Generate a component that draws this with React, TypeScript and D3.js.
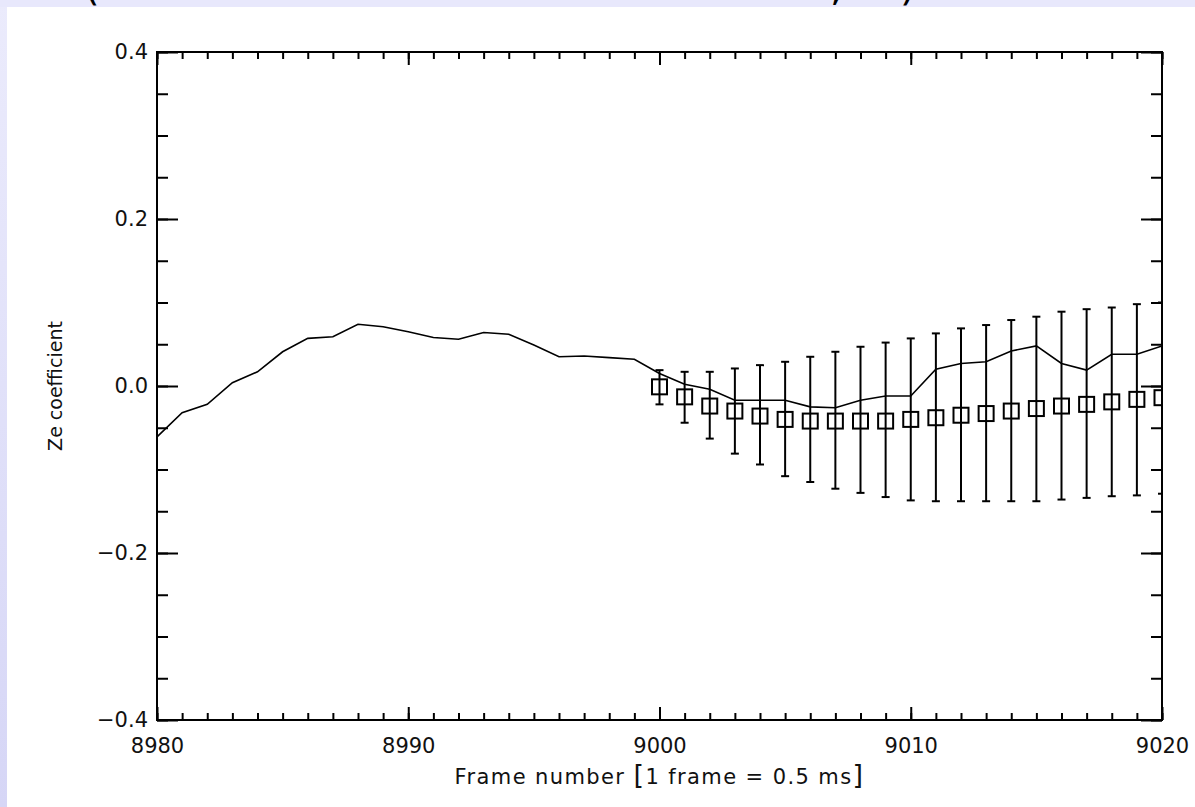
import React, { useEffect, useRef } from "react";
import { scaleLinear, axisBottom, axisTop, axisLeft, axisRight, select, line, format } from "d3";

// measured Ze coefficient, one value per frame
const lineFrames = [
  8980, 8981, 8982, 8983, 8984, 8985, 8986, 8987, 8988, 8989, 8990, 8991, 8992, 8993,
  8994, 8995, 8996, 8997, 8998, 8999, 9000, 9001, 9002, 9003, 9004, 9005, 9006, 9007,
  9008, 9009, 9010, 9011, 9012, 9013, 9014, 9015, 9016, 9017, 9018, 9019, 9020
];
const lineValues = [
  -0.061, -0.032, -0.022, 0.004, 0.017, 0.041, 0.057, 0.059, 0.074, 0.071, 0.065, 0.058,
  0.056, 0.064, 0.062, 0.049, 0.035, 0.036, 0.034, 0.032, 0.015, 0.002, -0.004, -0.017,
  -0.017, -0.017, -0.025, -0.026, -0.017, -0.012, -0.012, 0.02, 0.027, 0.029, 0.042,
  0.048, 0.027, 0.019, 0.038, 0.038, 0.048
];

// prediction with error bars
const predFrames = [
  9000, 9001, 9002, 9003, 9004, 9005, 9006, 9007, 9008, 9009, 9010, 9011, 9012, 9013,
  9014, 9015, 9016, 9017, 9018, 9019, 9020
];
const predValues = [
  -0.001, -0.013, -0.024, -0.03, -0.036, -0.04, -0.042, -0.042, -0.042, -0.042, -0.04,
  -0.038, -0.035, -0.033, -0.03, -0.027, -0.024, -0.022, -0.019, -0.016, -0.014
];
const predUpper = [
  0.019, 0.017, 0.017, 0.021, 0.025, 0.029, 0.035, 0.041, 0.047, 0.052, 0.057, 0.063,
  0.069, 0.073, 0.079, 0.083, 0.089, 0.092, 0.094, 0.098, 0.1
];
const predLower = [
  -0.022, -0.044, -0.063, -0.081, -0.094, -0.108, -0.115, -0.123, -0.128, -0.133, -0.137,
  -0.138, -0.138, -0.138, -0.138, -0.138, -0.136, -0.134, -0.132, -0.131, -0.129
];

const xMajorTicks = [8980, 8990, 9000, 9010, 9020];
const yMajorTicks = [-0.4, -0.2, 0.0, 0.2, 0.4];
const yMinorTicks = [
  -0.4, -0.35, -0.3, -0.25, -0.2, -0.15, -0.1, -0.05, 0, 0.05, 0.1, 0.15, 0.2, 0.25, 0.3,
  0.35, 0.4
];

const FONT = "DejaVu Sans";

function styleAxis(g, size = 21) {
  g.select(".domain").remove();
  g.attr("font-family", FONT).attr("font-size", size);
  g.selectAll("line").attr("stroke", "#000").attr("stroke-width", 2);
  g.selectAll("text").attr("fill", "#111");
}

function Chart({ width, height }) {
  const margin = { top: 52, left: 157, right: 33, bottom: 87 };
  const innerWidth = width - margin.left - margin.right,
    innerHeight = height - margin.top - margin.bottom;

  const xScale = scaleLinear().domain([8980, 9020]).range([0, innerWidth]);
  const yScale = scaleLinear().domain([-0.4, 0.4]).range([innerHeight, 0]);

  const bMinor = useRef(null), bMajor = useRef(null);
  const tMinor = useRef(null), tMajor = useRef(null);
  const lMinor = useRef(null), lMajor = useRef(null);
  const rMinor = useRef(null), rMajor = useRef(null);

  useEffect(() => {
    select(bMinor.current)
      .call(axisBottom(xScale).tickValues(lineFrames).tickSize(-7).tickFormat(() => ""))
      .call(styleAxis);
    select(bMajor.current)
      .call(axisBottom(xScale).tickValues(xMajorTicks).tickSize(-13).tickPadding(18).tickFormat(format("d")))
      .call(styleAxis);
    select(tMinor.current)
      .call(axisTop(xScale).tickValues(lineFrames).tickSize(-7).tickFormat(() => ""))
      .call(styleAxis);
    select(tMajor.current)
      .call(axisTop(xScale).tickValues(xMajorTicks).tickSize(-13).tickFormat(() => ""))
      .call(styleAxis);
    select(lMinor.current)
      .call(axisLeft(yScale).tickValues(yMinorTicks).tickSize(-11).tickFormat(() => ""))
      .call(styleAxis);
    select(lMajor.current)
      .call(axisLeft(yScale).tickValues(yMajorTicks).tickSize(-21).tickPadding(9).tickFormat(format(".1f")))
      .call(styleAxis);
    select(rMinor.current)
      .call(axisRight(yScale).tickValues(yMinorTicks).tickSize(-11).tickFormat(() => ""))
      .call(styleAxis);
    select(rMajor.current)
      .call(axisRight(yScale).tickValues(yMajorTicks).tickSize(-21).tickFormat(() => ""))
      .call(styleAxis);
  }, [xScale, yScale]);

  const path = line()
    .x((d, i) => xScale(lineFrames[i]))
    .y(d => yScale(d))(lineValues);

  const sq = 15, cap = 4;

  return (
    <g transform={`translate(${margin.left}, ${margin.top})`}>
      <defs>
        <clipPath id="plotClip">
          <rect x={0} y={0} width={innerWidth} height={innerHeight} />
        </clipPath>
      </defs>
      <g clipPath="url(#plotClip)">
        <path d={path} fill="none" stroke="#000" strokeWidth={1.6} />
        {predFrames.map((f, i) => {
          const cx = xScale(f);
          return (
            <g key={f} stroke="#000" strokeWidth={2} fill="none">
              <line x1={cx} x2={cx} y1={yScale(predUpper[i])} y2={yScale(predLower[i])} />
              <line x1={cx - cap} x2={cx + cap} y1={yScale(predUpper[i])} y2={yScale(predUpper[i])} />
              <line x1={cx - cap} x2={cx + cap} y1={yScale(predLower[i])} y2={yScale(predLower[i])} />
              <rect x={cx - sq / 2} y={yScale(predValues[i]) - sq / 2} width={sq} height={sq} />
            </g>
          );
        })}
      </g>
      <g ref={bMinor} transform={`translate(0, ${innerHeight})`} />
      <g ref={bMajor} transform={`translate(0, ${innerHeight})`} />
      <g ref={tMinor} />
      <g ref={tMajor} />
      <g ref={lMinor} />
      <g ref={lMajor} />
      <g ref={rMinor} transform={`translate(${innerWidth}, 0)`} />
      <g ref={rMajor} transform={`translate(${innerWidth}, 0)`} />
      <rect x={0} y={0} width={innerWidth} height={innerHeight} fill="none" stroke="#000" strokeWidth={2} />
      <text
        x={innerWidth / 2}
        y={innerHeight + 64}
        textAnchor="middle"
        fontFamily={FONT}
        fontSize={21}
        letterSpacing={1.4}
        fill="#111"
      >
        Frame number <tspan fontSize={27}>[</tspan>1 frame = 0.5 ms<tspan fontSize={27}>]</tspan>
      </text>
      <text
        transform={`translate(${62 - margin.left}, ${innerHeight / 2}) rotate(-90)`}
        textAnchor="middle"
        fontFamily={FONT}
        fontSize={19}
        fill="#111"
      >
        Ze coefficient
      </text>
    </g>
  );
}

export default function App() {
  const width = 1195,
    height = 807;
  return (
    <svg
      width={width}
      height={height}
      style={{ position: "absolute", left: 0, top: 0, display: "block" }}
    >
      <defs>
        <linearGradient id="bgGrad" x1="0" y1="0" x2="0" y2="1">
          <stop offset="0%" stopColor="#ebebfc" />
          <stop offset="100%" stopColor="#d6d6f6" />
        </linearGradient>
      </defs>
      <rect x={0} y={0} width={width} height={height} fill="url(#bgGrad)" />
      <rect x={0} y={0} width={width} height={7} fill="#e8e8fc" />
      <g fontFamily={FONT} fontSize={40} fill="#000">
        <text x={84} y={0}>(</text>
        <text x={830} y={0}>,</text>
        <text x={900} y={0}>)</text>
      </g>
      <rect x={7} y={7} width={width - 7} height={height - 7} fill="#fff" />
      <Chart width={width} height={height} />
    </svg>
  );
}
